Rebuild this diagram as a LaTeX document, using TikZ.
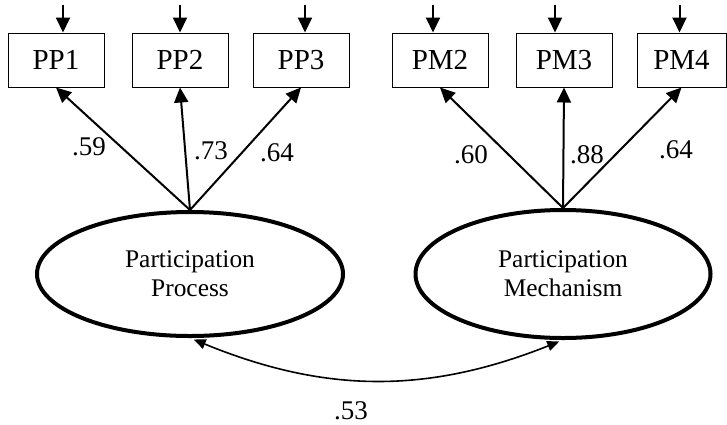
\documentclass[tikz,border=0pt]{standalone}
\usepackage{fontspec}
\setmainfont{Liberation Serif}
\usetikzlibrary{arrows.meta,shapes.geometric}
\tikzset{
	item/.style={draw, line width=.5pt, minimum width=48pt, minimum height=27pt, inner sep=0pt, font=\fontsize{14.5}{16}\selectfont},
	factor/.style={draw, ellipse, line width=2pt, inner sep=0pt, align=center, font=\fontsize{12.7}{14.5}\selectfont},
	load/.style={line width=1pt, -{Triangle[length=7.5pt,width=7pt]}},
	coef/.style={inner sep=0pt, font=\fontsize{13.5}{15}\selectfont}
}
\begin{document}
\begin{tikzpicture}[x=.5pt, y=-.5pt]
	\useasboundingbox (0,0) rectangle (727,424);

	\foreach \n/\t/\x/\w/\dx in {pp1/PP1/56/48/7, pp2/PP2/180/48/0, pp3/PP3/301/48/4,
			pm2/PM2/440/48/-7, pm3/PM3/564/48/-9, pm4/PM4/681.5/44.5/-2}{
		\node[item, minimum width=\w pt] (\n) at (\x,60) {\t};
		\coordinate (e\n) at ([xshift=\dx*.5pt, yshift=14pt]\n.north);
		\draw[load] (e\n) -- (e\n |- \n.north);
	}

	\node[factor, minimum width=153pt, minimum height=62pt] (proc) at (190,274) {Participation\\Process};
	\node[factor, minimum width=147.5pt, minimum height=64pt] (mech) at (563,274) {Participation\\Mechanism};

	\foreach \n in {pp1,pp2,pp3}
		\draw[load] (proc.north) -- (\n.south);
	\foreach \n in {pm2,pm3,pm4}
		\draw[load] (mech.north) -- (\n.south);

	\draw[line width=.8pt, {Triangle[length=6pt,width=5pt]}-{Triangle[length=6pt,width=5pt]},
		shorten <=2pt, shorten >=2pt] (proc.south) to[bend right=22] (mech.south);

	\node[coef] (c1) at (89,147) {.59};
	\node[coef] (c2) at (211,151) {.73};
	\node[coef] (c3) at (277,153) {.64};
	\node[coef] (c4) at (471,155) {.60};
	\node[coef] (c5) at (587,155) {.88};
	\node[coef] (c6) at (676,150) {.64};
	\node[coef] (c7) at (351,411) {.53};
\end{tikzpicture}
\end{document}
